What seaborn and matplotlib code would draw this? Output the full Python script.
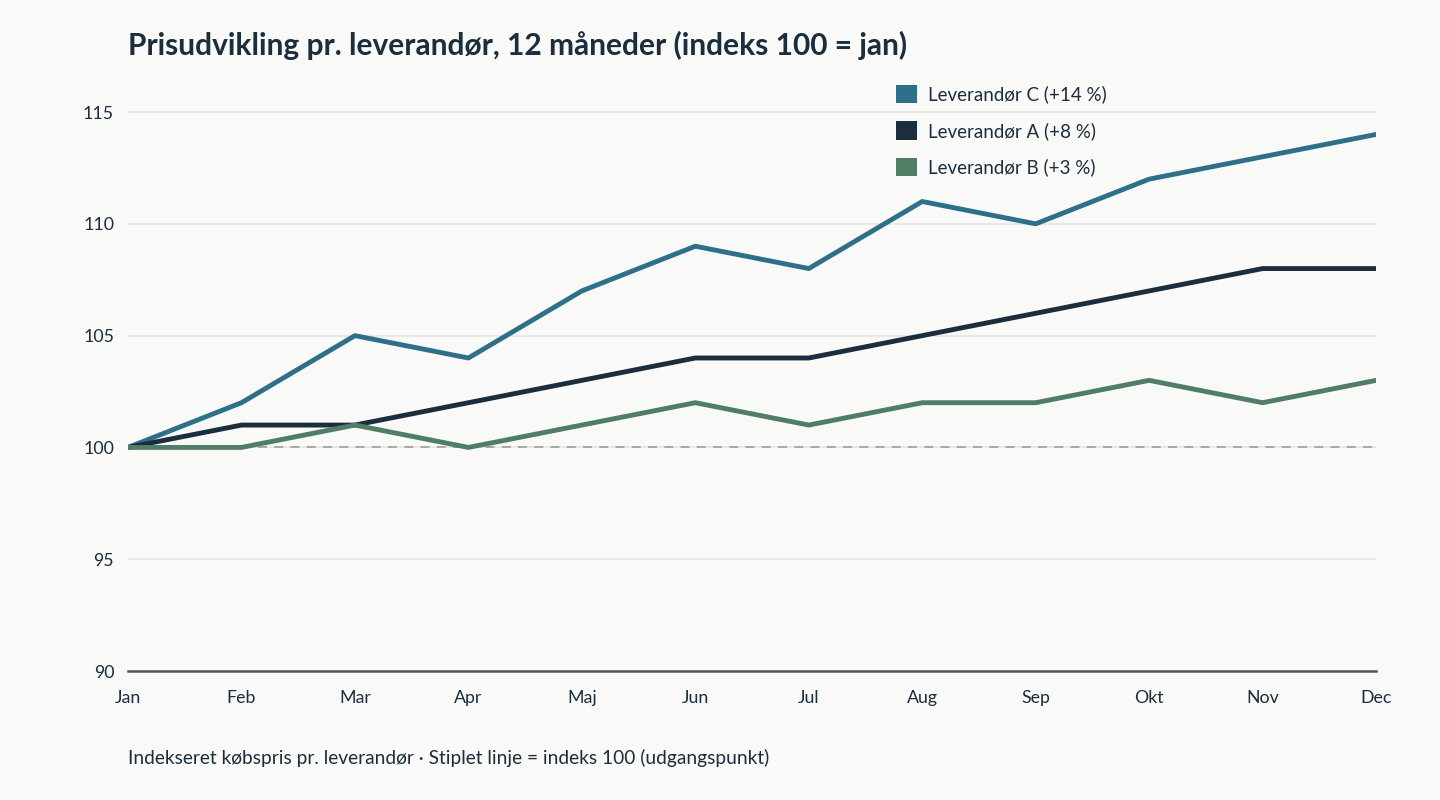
import pandas as pd
import numpy as np
import matplotlib.pyplot as plt
import seaborn as sns
from matplotlib.patches import Patch

# Data
months = ['Jan', 'Feb', 'Mar', 'Apr', 'Maj', 'Jun', 'Jul', 'Aug', 'Sep', 'Okt', 'Nov', 'Dec']
lev_c = [100, 102, 105, 104, 107, 109, 108, 111, 110, 112, 113, 114]
lev_a = [100, 101, 101, 102, 103, 104, 104, 105, 106, 107, 108, 108]
lev_b = [100, 100, 101, 100, 101, 102, 101, 102, 102, 103, 102, 103]
series_names = ['Leverandør C (+14 %)', 'Leverandør A (+8 %)', 'Leverandør B (+3 %)']
colors = ['#2e7089', '#1a2e3d', '#4f7d65']
yticks = [90, 95, 100, 105, 110, 115]

df = pd.DataFrame({
    'month': list(range(len(months))) * 3,
    'index': lev_c + lev_a + lev_b,
    'series': np.repeat(series_names, len(months)),
})

sns.set_theme(style='white')
plt.rcParams['font.family'] = ['Lato', 'DejaVu Sans']
bg = '#f9f9f7'

fig = plt.figure(figsize=(14.4, 8), dpi=100, facecolor=bg)
ax = fig.add_axes([0.0889, 0.16125, 0.8667, 0.735])
ax.set_facecolor(bg)

# Baseline at index 100
ax.plot([0, len(months) - 1], [100, 100], ls=(0, (5, 4)), color='#a3a3a3', lw=1.3, zorder=1)

sns.lineplot(data=df, x='month', y='index', hue='series', hue_order=series_names,
             palette=colors, linewidth=3.5, ax=ax, legend=False, zorder=3)

ax.set_xlim(0, len(months) - 1)
ax.set_ylim(90, 116.3)
ax.set_xticks(range(len(months)))
ax.set_xticklabels(months)
ax.set_yticks(yticks)
ax.set_xlabel('')
ax.set_ylabel('')
ax.grid(axis='y', color='#e5e5e3', lw=1.2)
ax.grid(axis='x', visible=False)
for s in ['top', 'right', 'left']:
    ax.spines[s].set_visible(False)
ax.spines['bottom'].set_color('#4a5660')
ax.spines['bottom'].set_linewidth(1.8)
ax.tick_params(axis='both', length=0, labelsize=12.8, colors='#1a2e3d')
ax.tick_params(axis='x', pad=14)
ax.tick_params(axis='y', pad=10)

handles = [Patch(facecolor=c, edgecolor='none') for c in colors]
fig.legend(handles, series_names, loc='upper left', bbox_to_anchor=(0.6104, 0.915),
           frameon=False, fontsize=13.5, handlelength=1.15, handleheight=1.15,
           handletextpad=0.55, labelspacing=0.95, labelcolor='#1a2e3d')

fig.text(0.0889, 0.943, 'Prisudvikling pr. leverandør, 12 måneder (indeks 100 = jan)',
         fontsize=21.5, fontweight='bold', color='#1a2e3d', va='center')
fig.text(0.0889, 0.052, 'Indekseret købspris pr. leverandør · Stiplet linje = indeks 100 (udgangspunkt)',
         fontsize=13.8, color='#1a2e3d', va='center')

fig.savefig('out.png', dpi=100, facecolor=bg)
